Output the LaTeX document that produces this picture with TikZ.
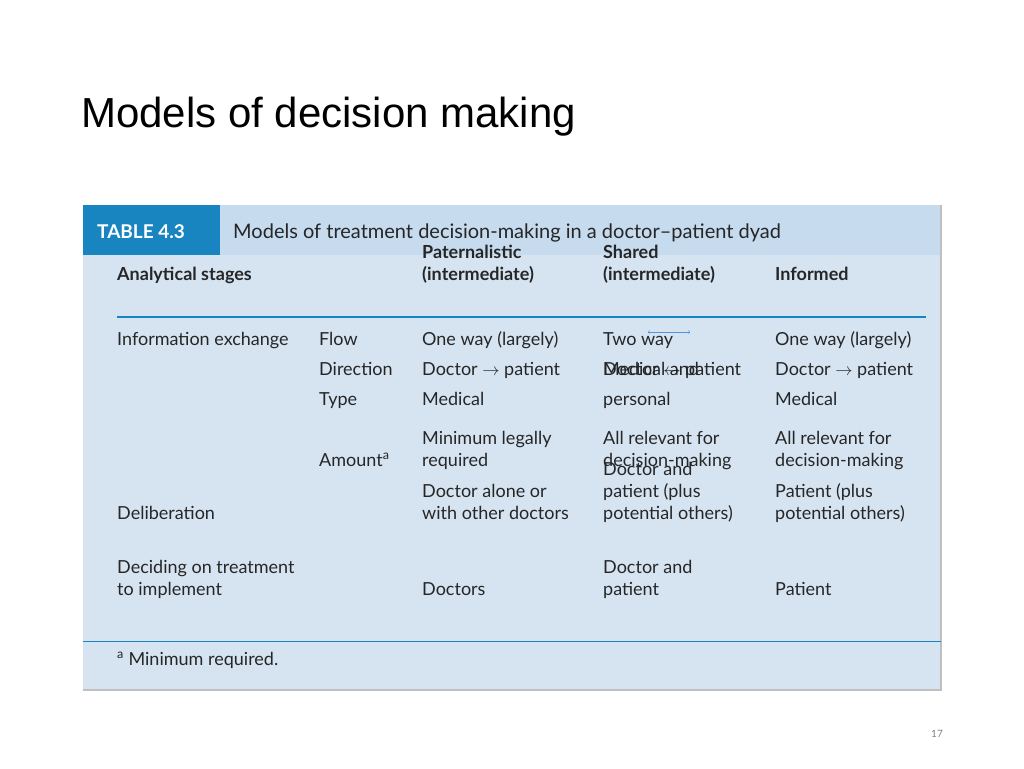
\documentclass[tikz,border=0pt]{standalone}
\usepackage{fontspec}
\setmainfont{Lato}
\newfontfamily\titlefont{Liberation Sans}
\definecolor{tblue}{RGB}{24,132,192}
\definecolor{tbg}{RGB}{214,228,242}
\definecolor{thd}{RGB}{198,219,238}
\definecolor{arrc}{RGB}{80,150,220}
\begin{document}
\begin{tikzpicture}[x=1pt,y=-1pt,
  t/.style={anchor=base west,inner sep=0pt,font=\fontsize{18}{22}\selectfont,text=black!85,align=left},
  h/.style={t,font=\fontsize{18}{22}\selectfont\bfseries}]
\useasboundingbox (0,0) rectangle (1024,768);
\node[anchor=base west,inner sep=0pt,font=\titlefont\fontsize{42}{46}\selectfont] (title) at (81,127) {Models of decision making};
\fill[tbg] (83,205) rectangle (941,690);
\fill[thd] (220,205) rectangle (941,255);
\fill[tblue] (83,205) rectangle (220,255);
\draw[black!25,line width=2pt] (83,690) -- (941,690) -- (941,205);
\node[anchor=base west,inner sep=0pt,text=white,font=\fontsize{19}{22}\selectfont\bfseries] (tab) at (97,238) {TABLE 4.3};
\node[t,font=\fontsize{20}{22}\selectfont] (cap) at (233,238) {Models of treatment decision-making in a doctor--patient dyad};
\node[h] (h1) at (117,280) {Analytical stages};
\node[h] (h2) at (422,280) {Paternalistic\\(intermediate)};
\node[h] (h3) at (603,280) {Shared\\(intermediate)};
\node[h] (h4) at (775,280) {Informed};
\draw[line width=2.5pt,tblue] (117,317) -- (926,317);
\node[t] (a1) at (117,345) {Information exchange};
\node[t] (b1) at (319,345) {Flow};
\node[t] (c1) at (422,345) {One way (largely)};
\node[t] (d1) at (603,345) {Two way};
\node[t] (e1) at (775,345) {One way (largely)};
\coordinate (arl) at (648,332); \coordinate (arr) at (690,332);
\draw[arrc,<->,thin] (arl) -- (arr);
\node[t] (b2) at (319,375) {Direction};
\node[t] (c2) at (422,375) {Doctor $\rightarrow$ patient};
\node[t] (d2) at (603,375) {Doctor $\leftrightarrow$ patient};
\node[t] (e2) at (775,375) {Doctor $\rightarrow$ patient};
\node[t] (b3) at (319,405) {Type};
\node[t] (c3) at (422,405) {Medical};
\node[t] (d3) at (603,405) {Medical and\\[8pt]personal};
\node[t] (e3) at (775,405) {Medical};
\node[t] (b4) at (319,466) {Amount\textsuperscript{a}};
\node[t] (c4) at (422,466) {Minimum legally\\required};
\node[t] (d4) at (603,466) {All relevant for\\decision-making};
\node[t] (e4) at (775,466) {All relevant for\\decision-making};
\node[t] (a5) at (117,519) {Deliberation};
\node[t] (c5) at (422,519) {Doctor alone or\\with other doctors};
\node[t] (d5) at (603,519) {Doctor and\\patient (plus\\potential others)};
\node[t] (e5) at (775,519) {Patient (plus\\potential others)};
\node[t] (a6) at (117,595) {Deciding on treatment\\to implement};
\node[t] (c6) at (422,595) {Doctors};
\node[t] (d6) at (603,595) {Doctor and\\patient};
\node[t] (e6) at (775,595) {Patient};
\draw[tblue,thin] (83,641) -- (941,641);
\node[t] (fn) at (117,665) {\textsuperscript{a} Minimum required.};
\node[anchor=base east,inner sep=0pt,font=\fontsize{10}{12}\selectfont,text=black!50] (pg) at (943,737) {17};
\end{tikzpicture}
\end{document}
